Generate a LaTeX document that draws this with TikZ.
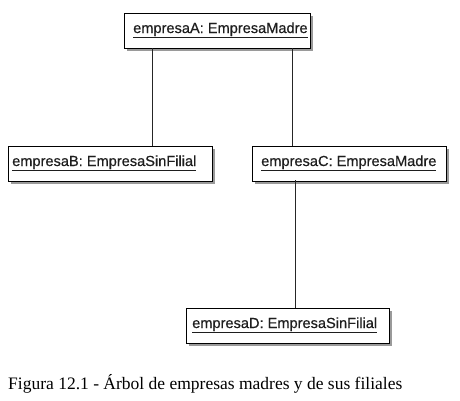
\documentclass[tikz,border=0pt]{standalone}
\usepackage{fontspec}
\setmainfont{Liberation Serif}
\newfontfamily\umlfont[FakeBold=0.5]{Liberation Sans}
\usetikzlibrary{shadows}
\definecolor{txt}{HTML}{1E1E1E}
\definecolor{shade}{HTML}{9A9A9A}
\tikzset{
  objbox/.style={draw=black, line width=1.3pt, fill=white, rectangle, inner sep=0pt,
    anchor=north west, minimum height=35pt,
    general shadow={fill=shade, shadow xshift=2.5pt, shadow yshift=-2.5pt}},
  objlabel/.style={anchor=base west, inner sep=0pt, text=txt,
    font=\umlfont\fontsize{14.6pt}{16pt}\selectfont},
  link/.style={draw=black!85, line width=1pt},
  caption/.style={anchor=base west, inner sep=0pt, text=black,
    font=\fontsize{17.5pt}{20pt}\selectfont}
}
\newcommand{\objname}[1]{\underline{#1}}
\begin{document}
\begin{tikzpicture}[x=1pt, y=-1pt]
\useasboundingbox[fill=white] (0,0) rectangle (460,400);
% connector end points
\coordinate (ab1) at (152,48);
\coordinate (ab2) at (152,146);
\coordinate (ac1) at (292,48);
\coordinate (ac2) at (292,146);
\coordinate (cd1) at (295,180);
\coordinate (cd2) at (295,308);
% boxes
\node[objbox, minimum width=186pt] (A) at (124,13) {};
\node[objbox, minimum width=204pt] (B) at (8,146) {};
\node[objbox, minimum width=194pt] (C) at (252,146) {};
\node[objbox, minimum width=203pt] (D) at (186,308) {};
\draw[link] (ab1) -- (ab2);
\draw[link] (ac1) -- (ac2);
\draw[link] (cd1) -- (cd2);
% labels
\node[objlabel] (At) at (133,33) {\objname{empresaA: EmpresaMadre}};
\node[objlabel] (Bt) at (12,166) {\objname{empresaB: EmpresaSinFilial}};
\node[objlabel] (Ct) at (261,166) {\objname{empresaC: EmpresaMadre}};
\node[objlabel] (Dt) at (192,328) {\objname{empresaD: EmpresaSinFilial}};
% caption
\node[caption] (cap) at (8,389) {Figura 12.1 - Árbol de empresas madres y de sus filiales};
\end{tikzpicture}
\end{document}
